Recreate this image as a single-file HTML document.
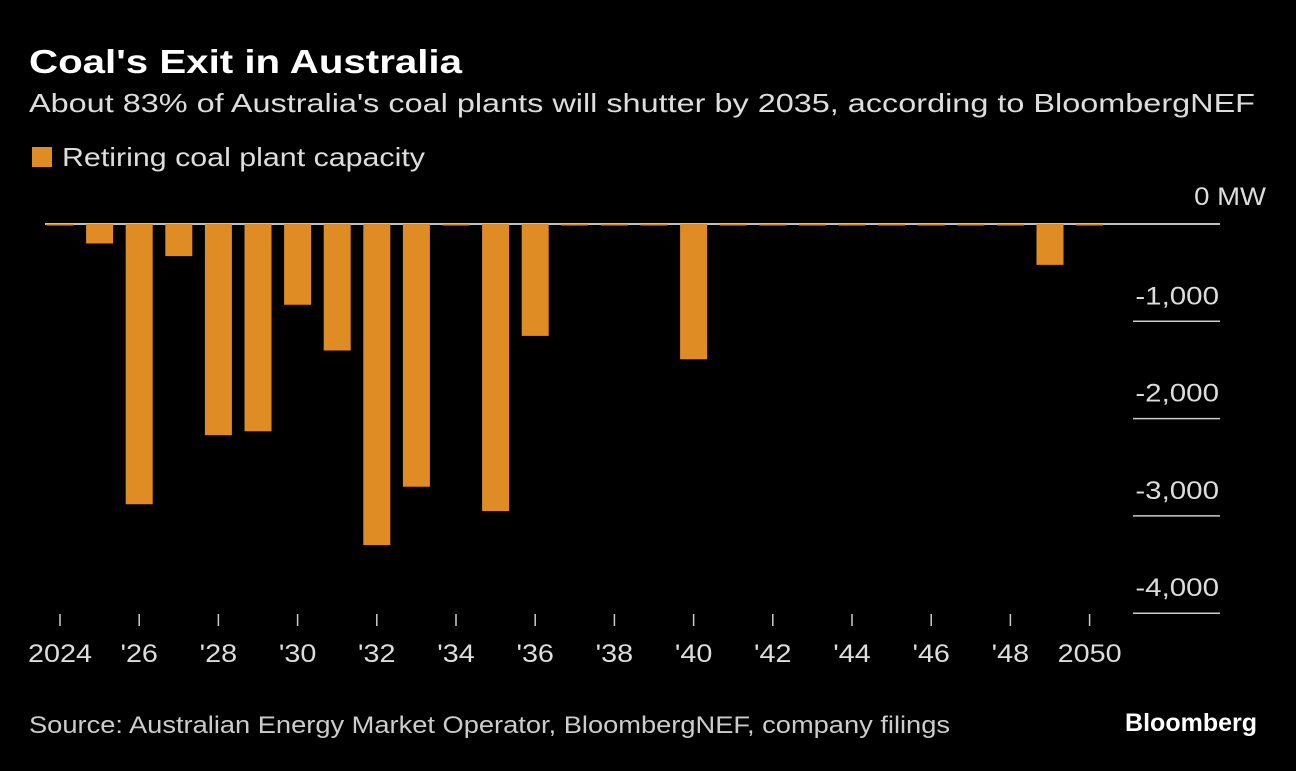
<!DOCTYPE html>
<html><head><meta charset="utf-8"><style>
body{margin:0;background:#000;width:1296px;height:766px;overflow:hidden;font-family:"Liberation Sans",sans-serif;color:#fff}
</style></head><body>
<svg width="1296" height="766">
<text x="29" y="73" font-size="33" font-weight="bold" fill="#fff" textLength="433" lengthAdjust="spacingAndGlyphs">Coal's Exit in Australia</text>
<text x="29" y="112" font-size="26" fill="#ddd" textLength="1226" lengthAdjust="spacingAndGlyphs">About 83% of Australia's coal plants will shutter by 2035, according to BloombergNEF</text>
<rect x="32" y="147" width="20" height="20" fill="#e08c25"/>
<text x="62" y="166" font-size="26" fill="#ddd" textLength="363" lengthAdjust="spacingAndGlyphs">Retiring coal plant capacity</text>
<g id="axis"></g><g id="bars"></g>
<text x="29" y="733" font-size="24" fill="#ccc" textLength="921" lengthAdjust="spacingAndGlyphs">Source: Australian Energy Market Operator, BloombergNEF, company filings</text>
<text x="1257" y="731" font-size="25" font-weight="bold" fill="#fff" text-anchor="end">Bloomberg</text>
</svg>
<script>
const years=[2024,2025,2026,2027,2028,2029,2030,2031,2032,2033,2034,2035,2036,2037,2038,2039,2040,2041,2042,2043,2044,2045,2046,2047,2048,2049,2050];
const values=[0,-200,-2880,-330,-2170,-2130,-830,-1300,-3300,-2700,0,-2950,-1150,0,0,0,-1390,0,0,0,0,0,0,0,0,-420,0];
const yTicks=[-1000,-2000,-3000,-4000];
const yTickLabels=["-1,000","-2,000","-3,000","-4,000"];
const NS="http://www.w3.org/2000/svg";
const x=y=>60+(y-2024)*39.6;
const yS=v=>224-v*0.0973;
const bars=document.getElementById('bars'),axis=document.getElementById('axis');
function mk(t,a,p){const e=document.createElementNS(NS,t);for(const k in a)e.setAttribute(k,a[k]);p.appendChild(e);return e;}
function widen(el,r){const w=el.getComputedTextLength();el.setAttribute('textLength',w*r);el.setAttribute('lengthAdjust','spacingAndGlyphs');}
years.forEach((yr,i)=>{
 const h=Math.max(yS(values[i])-224,1.5);
 const r=mk('rect',{x:x(yr)-13.5,y:224,width:27,height:h,fill:'#e08c25'},bars);
 
 
 if(yr%2===0){
  const t=mk('line',{x1:x(yr),x2:x(yr),y1:614,y2:626,stroke:'#ccc','stroke-width':1.5},axis);
  
  
  const l=mk('text',{x:x(yr),y:662,'font-size':25,fill:'#ddd','text-anchor':'middle'},axis);
  l.textContent=(yr===2024||yr===2050)?String(yr):"'"+String(yr).slice(2);
  
  
  widen(l,1.15);
 }
});
const z=mk('line',{x1:45,x2:1220,y1:224,y2:224,stroke:'#fff','stroke-width':1.5},axis);


const zl=mk('text',{x:1266,y:205,'font-size':25,fill:'#ddd','text-anchor':'end'},axis);
zl.textContent='0 MW';


widen(zl,1.1);
yTicks.forEach((v,i)=>{
 const g=mk('line',{x1:1133,x2:1220,y1:yS(v),y2:yS(v),stroke:'#ccc','stroke-width':1.5},axis);
 
 
 const t=mk('text',{x:1219,y:yS(v)-17,'font-size':25,fill:'#ddd','text-anchor':'end'},axis);
 t.textContent=yTickLabels[i];
 
 
 widen(t,1.18);
});
</script>
</body></html>
